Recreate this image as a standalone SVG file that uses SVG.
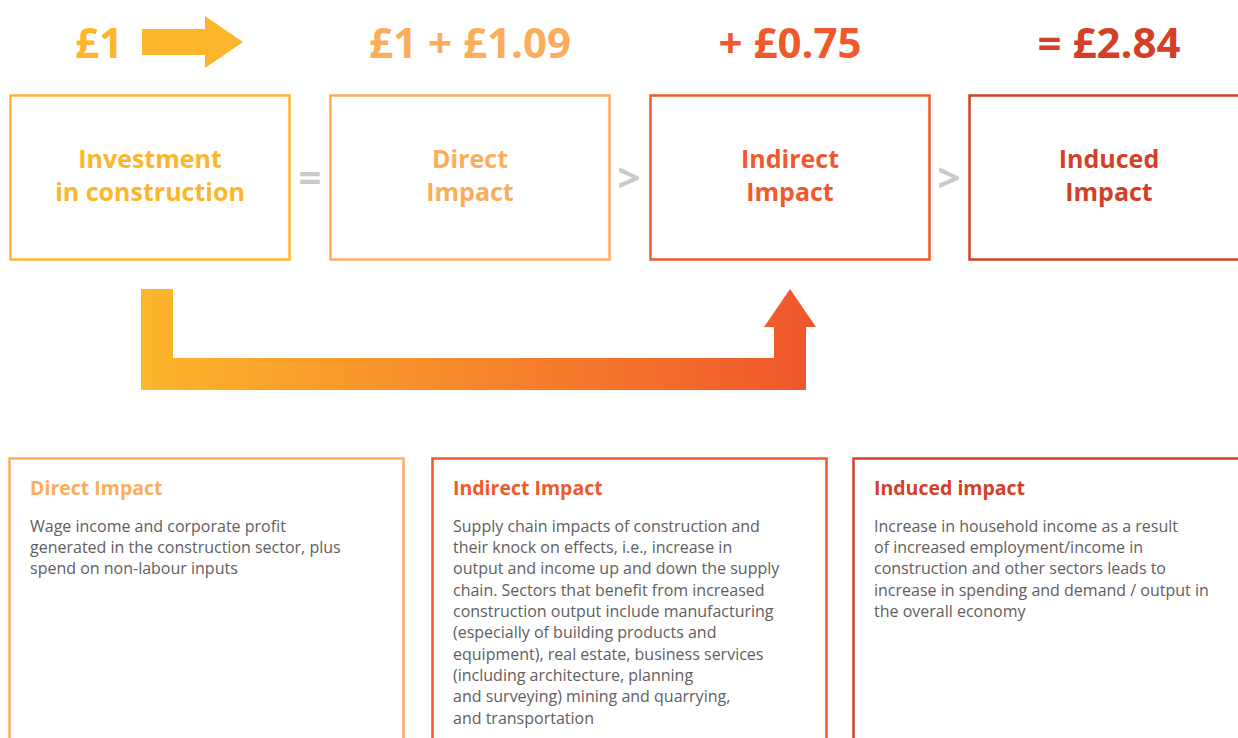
<svg xmlns="http://www.w3.org/2000/svg" width="1238" height="738" viewBox="0 0 1238 738">
<defs>
<linearGradient id="grad" x1="141" y1="0" x2="816" y2="0" gradientUnits="userSpaceOnUse">
<stop offset="0" stop-color="#FDB62B"/>
<stop offset="1" stop-color="#F0562C"/>
</linearGradient>
</defs>
<style>
.box{fill:#fff;stroke-width:2.5}
.big{font-family:"Open Sans","Liberation Sans",sans-serif;font-weight:700;font-size:42px;text-anchor:middle}
.lbl{font-family:"Open Sans","Liberation Sans",sans-serif;font-weight:700;font-size:25px;text-anchor:middle}
.op{font-family:"Open Sans","Liberation Sans",sans-serif;font-weight:700;font-size:40px;fill:#C9C9C9;text-anchor:middle}
.hd{font-family:"Open Sans","Liberation Sans",sans-serif;font-weight:700;font-size:19.5px}
.bd{font-family:"Open Sans","Liberation Sans",sans-serif;font-size:16px;fill:#606060}
.c1{fill:#FDB62B}.s1{stroke:#FDB62B}
.c2{fill:#FBAD5C}.s2{stroke:#FBAD5C}
.c3{fill:#F0592C}.s3{stroke:#F0592C}
.c4{fill:#D43F27}.s4{stroke:#D43F27}
</style>
<rect width="1238" height="738" fill="#fff"/>
<g id="values">
<text class="big c1" x="99" y="58">£1</text>
<path class="c1" d="M142 29H205V16L243 42L205 68V55H142Z"/>
<text class="big c2" x="470" y="58">£1 + £1.09</text>
<text class="big c3" x="790" y="58">+ £0.75</text>
<text class="big c4" x="1109" y="58">= £2.84</text>
</g>
<g id="node-investment">
<rect class="box s1" x="10.5" y="95.5" width="279" height="164"/>
<text class="lbl c1" x="150" y="168">Investment</text>
<text class="lbl c1" x="150" y="201">in construction</text>
</g>
<g id="node-direct">
<rect class="box s2" x="330.5" y="95.5" width="279" height="164"/>
<text class="lbl c2" x="470" y="168">Direct</text>
<text class="lbl c2" x="470" y="201">Impact</text>
</g>
<g id="node-indirect">
<rect class="box s3" x="650.5" y="95.5" width="279" height="164"/>
<text class="lbl c3" x="790" y="168">Indirect</text>
<text class="lbl c3" x="790" y="201">Impact</text>
</g>
<g id="node-induced">
<rect class="box s4" x="969.5" y="95.5" width="279" height="164"/>
<text class="lbl c4" x="1109" y="168">Induced</text>
<text class="lbl c4" x="1109" y="201">Impact</text>
</g>
<g id="connectors">
<text class="op" x="310" y="192">=</text>
<text class="op" x="629" y="192">&gt;</text>
<text class="op" x="949" y="192">&gt;</text>
<path fill="url(#grad)" d="M141 289H173V358H774V327H764L790 289L816 327H806V390H141Z"/>
</g>
<g id="desc-direct">
<rect class="box s2" x="9.5" y="458.5" width="394" height="290"/>
<text class="hd c2" x="30" y="495">Direct Impact</text>
<text class="bd" x="30" y="532">Wage income and corporate profit</text>
<text class="bd" x="30" y="553">generated in the construction sector, plus</text>
<text class="bd" x="30" y="574">spend on non-labour inputs</text>
</g>
<g id="desc-indirect">
<rect class="box s3" x="432.5" y="458.5" width="394" height="290"/>
<text class="hd c3" x="453" y="495">Indirect Impact</text>
<text class="bd" x="453" y="532">Supply chain impacts of construction and</text>
<text class="bd" x="453" y="553">their knock on effects, i.e., increase in</text>
<text class="bd" x="453" y="574">output and income up and down the supply</text>
<text class="bd" x="453" y="596">chain. Sectors that benefit from increased</text>
<text class="bd" x="453" y="617">construction output include manufacturing</text>
<text class="bd" x="453" y="638">(especially of building products and</text>
<text class="bd" x="453" y="660">equipment), real estate, business services</text>
<text class="bd" x="453" y="681">(including architecture, planning</text>
<text class="bd" x="453" y="702">and surveying) mining and quarrying,</text>
<text class="bd" x="453" y="724">and transportation</text>
</g>
<g id="desc-induced">
<rect class="box s4" x="853.5" y="458.5" width="394" height="290"/>
<text class="hd c4" x="874" y="495">Induced impact</text>
<text class="bd" x="874" y="532">Increase in household income as a result</text>
<text class="bd" x="874" y="553">of increased employment/income in</text>
<text class="bd" x="874" y="574">construction and other sectors leads to</text>
<text class="bd" x="874" y="596">increase in spending and demand / output in</text>
<text class="bd" x="874" y="617">the overall economy</text>
</g>
</svg>
